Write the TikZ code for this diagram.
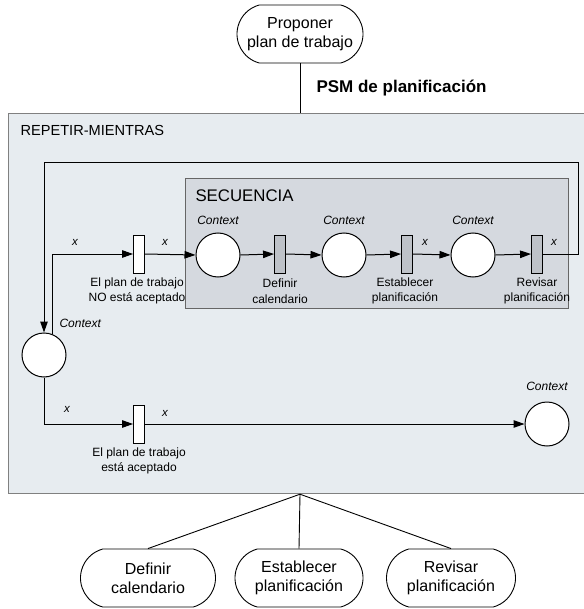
\documentclass[tikz,border=0pt]{standalone}
\usepackage{fontspec}
\setmainfont{Liberation Sans}
\usetikzlibrary{arrows.meta,shapes.misc}

\definecolor{repfill}{HTML}{E7ECF0}
\definecolor{secfill}{HTML}{D5D9DF}
\definecolor{barfill}{HTML}{BEC2C8}

\tikzset{
  arr/.style={line width=1pt, -{Triangle[length=11pt,width=7.5pt]}},
  place/.style={circle, draw, line width=1pt, fill=white, minimum size=44pt, inner sep=0pt},
  trans/.style={rectangle, draw, line width=0.9pt, fill=white, minimum width=11pt, minimum height=38pt, inner sep=0pt},
  seqtrans/.style={trans, fill=barfill},
  task/.style={rounded rectangle, rounded rectangle arc length=150, draw, line width=0.9pt, align=center,
    minimum height=58pt, inner sep=2pt, font=\fontsize{16}{19}\selectfont},
  ctx/.style={font=\fontsize{12}{14}\selectfont\itshape},
  var/.style={font=\fontsize{11.5}{13}\selectfont\itshape},
  lbl/.style={align=center, font=\fontsize{12}{15.5}\selectfont},
}

\begin{document}
\begin{tikzpicture}[x=1pt, y=-1pt]
  \useasboundingbox (0,0) rectangle (583,609);

  % boxes
  \node[draw=gray, line width=1.2pt, fill=repfill, minimum width=600pt, minimum height=380pt,
    anchor=north west, inner sep=0pt] (rep) at (8,113) {};
  \node[anchor=west, font=\fontsize{14.6}{16}\selectfont] (reptitle) at (17,130) {REPETIR-MIENTRAS};
  \node[draw=gray!80!black, line width=1pt, fill=secfill, minimum width=383pt, minimum height=130pt,
    anchor=north west, inner sep=0pt] (seq) at (185,178) {};
  \node[anchor=west, font=\fontsize{16.8}{18}\selectfont] (seqtitle) at (192,196) {SECUENCIA};

  % tasks
  \node[task, minimum width=130pt] (prop) at (300,34) {Proponer\\plan de trabajo};
  \node[anchor=west, font=\fontsize{17}{19}\selectfont\bfseries] (psm) at (313,88) {PSM de planificación};
  \node[task, minimum width=139pt] (def) at (148,578) {Definir\\calendario};
  \node[task, minimum width=132pt] (est) at (299,578) {Establecer\\planificación};
  \node[task, minimum width=133pt] (rev) at (451,578) {Revisar\\planificación};

  % places and transitions
  \node[place] (c0) at (44,355) {};
  \node[trans] (t1) at (139,254) {};
  \node[place] (c1) at (218,255) {};
  \node[seqtrans] (t2) at (280,254) {};
  \node[place] (c2) at (344,255) {};
  \node[seqtrans] (t3) at (407,254) {};
  \node[place] (c3) at (473,255) {};
  \node[seqtrans] (t4) at (537,254) {};
  \node[trans] (t5) at (139,424) {};
  \node[place] (c4) at (547,424) {};

  % labels
  \node[ctx, anchor=west] (k0) at (56,323) {Context};
  \node[ctx] (k1) at (218,220) {Context};
  \node[ctx] (k2) at (344,220) {Context};
  \node[ctx] (k3) at (473,220) {Context};
  \node[ctx] (k4) at (547,386) {Context};
  \node[lbl] (l1) at (137,291) {El plan de trabajo\\NO está aceptado};
  \node[lbl] (l2) at (280,291) {Definir\\calendario};
  \node[lbl] (l3) at (405,291) {Establecer\\planificación};
  \node[lbl] (l4) at (537,291) {Revisar\\planificación};
  \node[lbl] (l5) at (139,461) {El plan de trabajo\\está aceptado};
  \node[var] (x1) at (75,242) {x};
  \node[var] (x2) at (165,242) {x};
  \node[var] (x3) at (425,242) {x};
  \node[var] (x4) at (554,242) {x};
  \node[var] (x5) at (67,409) {x};
  \node[var] (x6) at (165,413) {x};

  % connectors
  \coordinate (loopR) at (578,163);
  \draw[arr] (t4.east) -| (loopR) -| (c0.north);
  \draw[arr] (c0.67) |- (t1.west);
  \draw[arr] (t1.east) -- (c1.west);
  \draw[arr] (c1.east) -- (t2.west);
  \draw[arr] (t2.east) -- (c2.west);
  \draw[arr] (c2.east) -- (t3.west);
  \draw[arr] (t3.east) -- (c3.west);
  \draw[arr] (c3.east) -- (t4.west);
  \draw[arr] (c0.south) |- (t5.west);
  \draw[arr] (t5.east) -- (c4.west);

  % tree
  \draw[line width=0.9pt] (prop.south) -- (prop.south |- rep.north);
  \coordinate (fork) at (prop.south |- rep.south);
  \draw[line width=0.9pt] (fork) -- (def.north);
  \draw[line width=0.9pt] (fork) -- (est.north);
  \draw[line width=0.9pt] (fork) -- (rev.north);
\end{tikzpicture}
\end{document}
